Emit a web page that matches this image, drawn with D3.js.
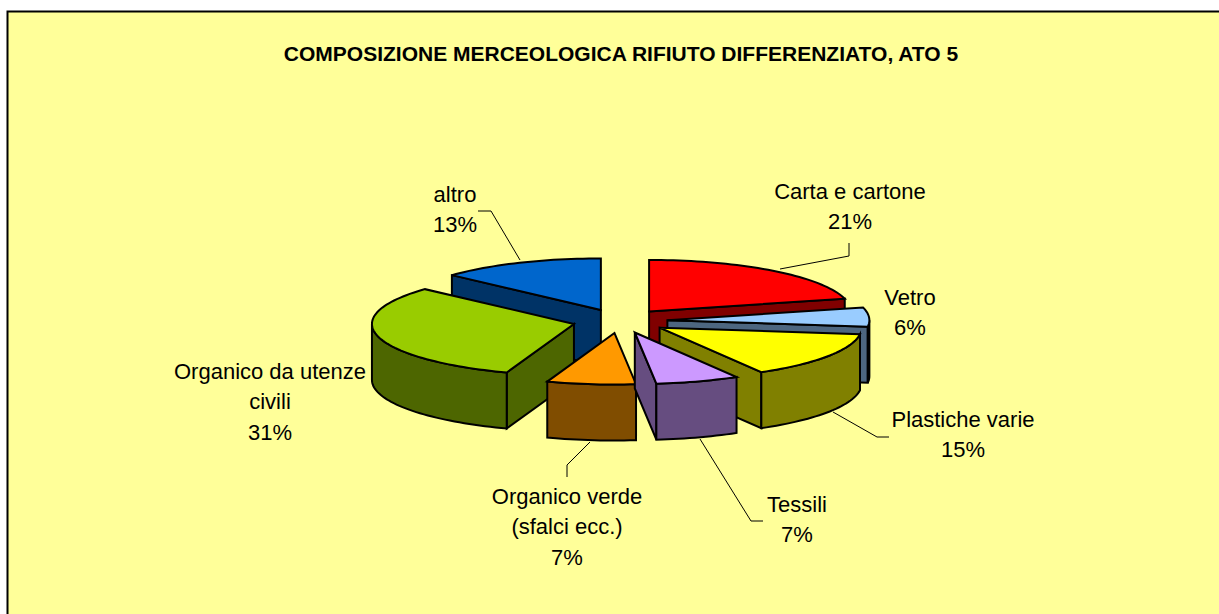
<!DOCTYPE html>
<html>
<head>
<meta charset="utf-8">
<script src="https://cdn.jsdelivr.net/npm/d3@7/dist/d3.min.js"></script>
<style>
html,body{margin:0;padding:0;background:#fff;overflow:hidden}
svg{display:block}
text{font-family:"Liberation Sans",Arial,sans-serif;fill:#000}
</style>
</head>
<body>
<svg id="chart" width="1219" height="614"></svg>
<script>
const chartTitle = "COMPOSIZIONE MERCEOLOGICA RIFIUTO DIFFERENZIATO, ATO 5";
const categories = ["Carta e cartone","Vetro","Plastiche varie","Tessili","Organico verde (sfalci ecc.)","Organico da utenze civili","altro"];
const values = [21.0, 6.0, 14.6, 6.7, 7.1, 31.4, 13.2];
const labelLines = [["Carta e cartone"],["Vetro"],["Plastiche varie"],["Tessili"],["Organico verde","(sfalci ecc.)"],["Organico da utenze","civili"],["altro"]];
const topColors = ["#FF0000","#99CCFF","#FFFF00","#CC99FF","#FF9900","#99CC00","#0066CC"];
const paintOrder = [0,6,1,5,2,4,3];

// layout only
const W = 1219, H = 614;
const cx = 620, cy = 321, R = 202, Ry = 51.5, depth = 56, explode = 0.235;
const labelPos = [[850,199],[910,305],[963,427],[797,512],[567,504],[270,379],[455,202]];
const lineGap = 30.3;
const leaders = [
  [[780,269],[849,256],[849,243]],
  null,
  [[833,412],[877,437],[889,437]],
  [[700,439],[751,521],[763,521]],
  [[590,442],[567,465],[567,477]],
  null,
  [[520,260],[491,211],[478,211]]
];

const svg = d3.select("#chart");
const total = d3.sum(values);
const pct = d3.format(".0%");
const xS = d3.scaleLinear().domain([-1,1]).range([cx-R,cx+R]);
const yS = d3.scaleLinear().domain([-1,1]).range([cy-Ry,cy+Ry]);
const arcs = d3.pie().sort(null).value(d=>d)(values);

svg.append("rect").attr("x",7.5).attr("y",11.5).attr("width",W+20).attr("height",H+20)
  .attr("fill","#FFFF99").attr("stroke","#000").attr("stroke-width",2);

svg.append("text").attr("x",621).attr("y",61).attr("text-anchor","middle")
  .attr("font-size",21).attr("font-weight","bold").text(chartTitle);

const lineGen = d3.line();
const wallColor = c => { const r = d3.rgb(c); return d3.rgb(r.r/2,r.g/2,r.b/2).formatHex(); };

paintOrder.forEach(i=>{
  const a = arcs[i], mid = (a.startAngle+a.endAngle)/2;
  const ox = explode*Math.sin(mid), oy = -explode*Math.cos(mid);
  const P = t => [xS(ox+Math.sin(t)), yS(oy-Math.cos(t))];
  const apex = [xS(ox), yS(oy)];
  const down = p => [p[0], p[1]+depth];
  const sampleArc = (t0,t1) => { const n = Math.max(2,Math.ceil((t1-t0)/0.03)); return d3.range(n+1).map(k=>P(t0+(t1-t0)*k/n)); };
  const outer = sampleArc(a.startAngle,a.endAngle);
  const g = svg.append("g").attr("class","slice").attr("data-cat",categories[i]);
  const style = s => s.attr("stroke","#000").attr("stroke-width",2).attr("stroke-linejoin","miter").attr("stroke-miterlimit",4);
  const wall = pts => style(g.append("path").attr("d",lineGen(pts)+"Z").attr("fill",wallColor(topColors[i])));
  const p0 = outer[0], p1 = outer[outer.length-1];
  if (p0[0] < apex[0]-0.01) wall([apex,p0,down(p0),down(apex)]);
  if (apex[0] < p1[0]-0.01) wall([p1,apex,down(apex),down(p1)]);
  const t0 = Math.max(a.startAngle,Math.PI/2), t1 = Math.min(a.endAngle,3*Math.PI/2);
  if (t1 > t0) { const s = sampleArc(t0,t1); wall(s.concat(s.map(down).reverse())); }
  style(g.append("path").attr("d",lineGen([apex].concat(outer))+"Z").attr("fill",topColors[i]));
});

leaders.forEach(l=>{
  if(l) svg.append("path").attr("d",lineGen(l)).attr("fill","none").attr("stroke","#000").attr("stroke-width",1);
});

labelLines.forEach((lines,i)=>{
  const t = svg.append("text").attr("text-anchor","middle").attr("font-size",22);
  lines.concat([pct(values[i]/total)]).forEach((s,k)=>{
    t.append("tspan").attr("x",labelPos[i][0]).attr("y",labelPos[i][1]+k*lineGap).text(s);
  });
});
</script>
</body>
</html>
